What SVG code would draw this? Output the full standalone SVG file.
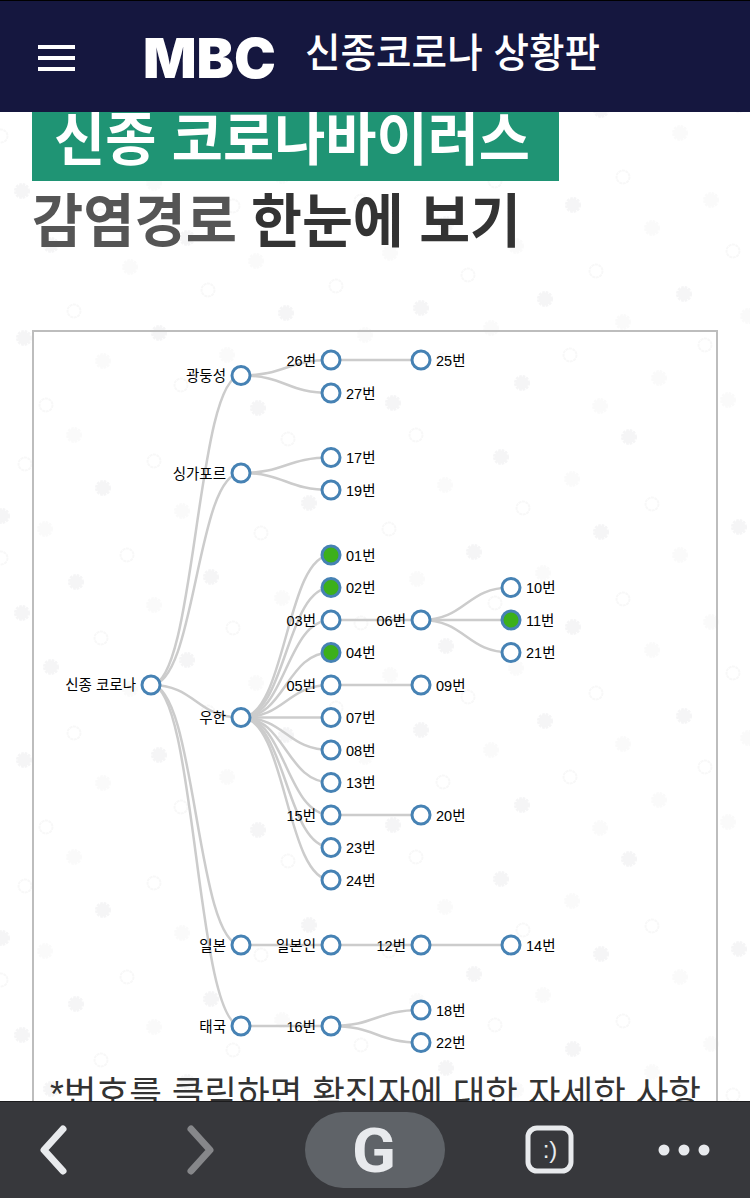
<svg xmlns="http://www.w3.org/2000/svg" width="750" height="1198" viewBox="0 0 750 1198">
<style>
text{font-family:"Liberation Sans","Noto Sans CJK KR",sans-serif}
.l{fill:none;stroke:#ccc;stroke-width:2.5}
.n{fill:#fff;stroke:#4682b4;stroke-width:3}
.g{fill:#3cb01a;stroke:#4682b4;stroke-width:3}
.t{font-size:14.500px;fill:#000}
.e{text-anchor:end}
.r{fill:none;stroke:#f8f8f8;stroke-width:2;stroke-dasharray:3 .6}
.f{fill:#f5f5f6;stroke:#f5f5f6;stroke-width:3;stroke-dasharray:2.400 1}
.h{fill:#fafafa;stroke:#fafafa;stroke-width:3;stroke-dasharray:2.400 1}
</style>
<defs>
<circle id="ring" class="r" r="6.500"/>
<circle id="flake" class="f" r="6.500"/>
<circle id="pale" class="h" r="6.500"/>
<g id="tile">
<use href="#flake" x="501" y="457"/><use href="#flake" x="103" y="488"/><use href="#pale" x="445" y="485"/><use href="#pale" x="572" y="479"/><use href="#flake" x="309" y="503"/><use href="#pale" x="182" y="511"/><use href="#flake" x="2" y="516"/><use href="#pale" x="45" y="529"/><use href="#flake" x="601" y="532"/><use href="#flake" x="739" y="527"/><use href="#flake" x="474" y="552"/><use href="#pale" x="680" y="555"/><use href="#flake" x="76" y="582"/><use href="#flake" x="211" y="577"/><use href="#pale" x="417" y="579"/><use href="#pale" x="543" y="573"/><use href="#pale" x="282" y="598"/><use href="#pale" x="154" y="605"/><use href="#flake" x="22" y="613"/><use href="#pale" x="711" y="622"/><use href="#flake" x="573" y="627"/><use href="#flake" x="446" y="646"/><use href="#pale" x="652" y="650"/><use href="#flake" x="51" y="667"/><use href="#flake" x="187" y="660"/><use href="#pale" x="516" y="668"/><use href="#pale" x="390" y="675"/><use href="#pale" x="256" y="683"/><use href="#pale" x="130" y="689"/><use href="#pale" x="103" y="783"/><use href="#pale" x="227" y="777"/><use href="#flake" x="522" y="805"/><use href="#pale" x="659" y="800"/><use href="#flake" x="258" y="830"/><use href="#flake" x="393" y="825"/><use href="#pale" x="728" y="822"/><use href="#pale" x="600" y="828"/><use href="#pale" x="74" y="857"/><use href="#flake" x="629" y="859"/><use href="#pale" x="623" y="744"/><use href="#pale" x="491" y="750"/><use href="#pale" x="365" y="757"/><use href="#flake" x="286" y="735"/><use href="#flake" x="421" y="730"/><use href="#flake" x="545" y="721"/><use href="#flake" x="684" y="716"/><use href="#flake" x="159" y="755"/><use href="#flake" x="24" y="760"/><use href="#pale" x="748" y="738"/>
<use href="#ring" x="25" y="464"/><use href="#ring" x="154" y="461"/><use href="#ring" x="523" y="508"/><use href="#ring" x="652" y="504"/><use href="#ring" x="261" y="533"/><use href="#ring" x="389" y="529"/><use href="#ring" x="127" y="555"/><use href="#ring" x="1" y="558"/><use href="#ring" x="623" y="599"/><use href="#ring" x="495" y="603"/><use href="#ring" x="233" y="628"/><use href="#ring" x="361" y="623"/><use href="#ring" x="101" y="638"/><use href="#ring" x="733" y="673"/><use href="#ring" x="596" y="693"/><use href="#ring" x="468" y="697"/><use href="#ring" x="336" y="708"/><use href="#ring" x="208" y="712"/><use href="#ring" x="74" y="733"/><use href="#ring" x="705" y="767"/><use href="#ring" x="570" y="777"/><use href="#ring" x="443" y="782"/><use href="#ring" x="181" y="807"/><use href="#ring" x="46" y="827"/><use href="#ring" x="416" y="857"/><use href="#ring" x="288" y="861"/>
</g>
</defs>
<rect width="750" height="1198" fill="#fff"/>
<g id="background">
<use href="#tile" y="-422"/><use href="#tile"/><use href="#tile" y="422"/>
</g>
<rect x="33" y="331" width="684" height="800" fill="none" stroke="#bdbdbd" stroke-width="2"/>
<g id="connectors">
<path class="l" d="M151 685C196 685 196 375.500 241 375.500"/>
<path class="l" d="M151 685C196 685 196 473 241 473"/>
<path class="l" d="M151 685C196 685 196 717.500 241 717.500"/>
<path class="l" d="M151 685C196 685 196 945 241 945"/>
<path class="l" d="M151 685C196 685 196 1026 241 1026"/>
<path class="l" d="M241 375.500C286 375.500 286 360 331 360"/>
<path class="l" d="M241 375.500C286 375.500 286 393 331 393"/>
<path class="l" d="M331 360H421"/>
<path class="l" d="M241 473C286 473 286 457.500 331 457.500"/>
<path class="l" d="M241 473C286 473 286 490 331 490"/>
<path class="l" d="M241 717.500C286 717.500 286 555 331 555"/>
<path class="l" d="M241 717.500C286 717.500 286 587.500 331 587.500"/>
<path class="l" d="M241 717.500C286 717.500 286 620 331 620"/>
<path class="l" d="M241 717.500C286 717.500 286 652.500 331 652.500"/>
<path class="l" d="M241 717.500C286 717.500 286 685 331 685"/>
<path class="l" d="M241 717.500H331"/>
<path class="l" d="M241 717.500C286 717.500 286 750 331 750"/>
<path class="l" d="M241 717.500C286 717.500 286 782.500 331 782.500"/>
<path class="l" d="M241 717.500C286 717.500 286 815 331 815"/>
<path class="l" d="M241 717.500C286 717.500 286 847.500 331 847.500"/>
<path class="l" d="M241 717.500C286 717.500 286 880 331 880"/>
<path class="l" d="M331 620H421"/>
<path class="l" d="M421 620C466 620 466 587.500 511 587.500"/>
<path class="l" d="M421 620H511"/>
<path class="l" d="M421 620C466 620 466 652.500 511 652.500"/>
<path class="l" d="M331 685H421"/>
<path class="l" d="M331 815H421"/>
<path class="l" d="M241 945H511"/>
<path class="l" d="M241 1026H331"/>
<path class="l" d="M331 1026C376 1026 376 1010 421 1010"/>
<path class="l" d="M331 1026C376 1026 376 1042.500 421 1042.500"/>
</g>
<g id="node-root"><circle class="n" cx="151" cy="685" r="9"/><text class="t e" x="136" y="690">신종 코로나</text></g>
<g id="node-gd"><circle class="n" cx="241" cy="375.500" r="9"/><text class="t e" x="226" y="381">광둥성</text></g>
<g id="node-sg"><circle class="n" cx="241" cy="473" r="9"/><text class="t e" x="226" y="478.500">싱가포르</text></g>
<g id="node-wh"><circle class="n" cx="241" cy="717.500" r="9"/><text class="t e" x="226" y="723">우한</text></g>
<g id="node-jp"><circle class="n" cx="241" cy="945" r="9"/><text class="t e" x="226" y="950.500">일본</text></g>
<g id="node-th"><circle class="n" cx="241" cy="1026" r="9"/><text class="t e" x="226" y="1031.500">태국</text></g>
<g id="node-26"><circle class="n" cx="331" cy="360" r="9"/><text class="t e" x="316" y="365.500">26번</text></g>
<g id="node-25"><circle class="n" cx="421" cy="360" r="9"/><text class="t" x="436" y="365.500">25번</text></g>
<g id="node-27"><circle class="n" cx="331" cy="393" r="9"/><text class="t" x="346" y="398.500">27번</text></g>
<g id="node-17"><circle class="n" cx="331" cy="457.500" r="9"/><text class="t" x="346" y="463">17번</text></g>
<g id="node-19"><circle class="n" cx="331" cy="490" r="9"/><text class="t" x="346" y="495.500">19번</text></g>
<g id="node-01"><circle class="g" cx="331" cy="555" r="9"/><text class="t" x="346" y="560.500">01번</text></g>
<g id="node-02"><circle class="g" cx="331" cy="587.500" r="9"/><text class="t" x="346" y="593">02번</text></g>
<g id="node-03"><circle class="n" cx="331" cy="620" r="9"/><text class="t e" x="316" y="625.500">03번</text></g>
<g id="node-06"><circle class="n" cx="421" cy="620" r="9"/><text class="t e" x="406" y="625.500">06번</text></g>
<g id="node-10"><circle class="n" cx="511" cy="587.500" r="9"/><text class="t" x="526" y="593">10번</text></g>
<g id="node-11"><circle class="g" cx="511" cy="620" r="9"/><text class="t" x="526" y="625.500">11번</text></g>
<g id="node-21"><circle class="n" cx="511" cy="652.500" r="9"/><text class="t" x="526" y="658">21번</text></g>
<g id="node-04"><circle class="g" cx="331" cy="652.500" r="9"/><text class="t" x="346" y="658">04번</text></g>
<g id="node-05"><circle class="n" cx="331" cy="685" r="9"/><text class="t e" x="316" y="690.500">05번</text></g>
<g id="node-09"><circle class="n" cx="421" cy="685" r="9"/><text class="t" x="436" y="690.500">09번</text></g>
<g id="node-07"><circle class="n" cx="331" cy="717.500" r="9"/><text class="t" x="346" y="723">07번</text></g>
<g id="node-08"><circle class="n" cx="331" cy="750" r="9"/><text class="t" x="346" y="755.500">08번</text></g>
<g id="node-13"><circle class="n" cx="331" cy="782.500" r="9"/><text class="t" x="346" y="788">13번</text></g>
<g id="node-15"><circle class="n" cx="331" cy="815" r="9"/><text class="t e" x="316" y="820.500">15번</text></g>
<g id="node-20"><circle class="n" cx="421" cy="815" r="9"/><text class="t" x="436" y="820.500">20번</text></g>
<g id="node-23"><circle class="n" cx="331" cy="847.500" r="9"/><text class="t" x="346" y="853">23번</text></g>
<g id="node-24"><circle class="n" cx="331" cy="880" r="9"/><text class="t" x="346" y="885.500">24번</text></g>
<g id="node-jpp"><circle class="n" cx="331" cy="945" r="9"/><text class="t e" x="316" y="950.500">일본인</text></g>
<g id="node-12"><circle class="n" cx="421" cy="945" r="9"/><text class="t e" x="406" y="950.500">12번</text></g>
<g id="node-14"><circle class="n" cx="511" cy="945" r="9"/><text class="t" x="526" y="950.500">14번</text></g>
<g id="node-16"><circle class="n" cx="331" cy="1026" r="9"/><text class="t e" x="316" y="1031.500">16번</text></g>
<g id="node-18"><circle class="n" cx="421" cy="1010" r="9"/><text class="t" x="436" y="1015.500">18번</text></g>
<g id="node-22"><circle class="n" cx="421" cy="1042.500" r="9"/><text class="t" x="436" y="1048">22번</text></g>
<text x="50" y="1107" font-size="36" fill="#333" textLength="651" lengthAdjust="spacingAndGlyphs">*번호를 클릭하면 확진자에 대한 자세한 사항</text>
<g id="title">
<rect x="32" y="100" width="527" height="81" fill="#1f9474"/>
<text x="54" y="160" font-size="58" font-weight="700" fill="#fff" textLength="476" lengthAdjust="spacingAndGlyphs">신종 코로나바이러스</text>
<text x="32" y="242" font-size="58" font-weight="700" fill="#555" textLength="205" lengthAdjust="spacingAndGlyphs">감염경로</text>
<text x="251" y="242" font-size="58" font-weight="700" fill="#333" textLength="270" lengthAdjust="spacingAndGlyphs">한눈에 보기</text>
</g>
<g id="header">
<rect width="750" height="112" fill="#15173f"/>
<rect width="750" height="1" fill="#000"/>
<path d="M38 47H75M38 58H75M38 69H75" stroke="#fff" stroke-width="4" fill="none"/>
<text x="143" y="78" font-size="55" font-weight="900" fill="#fff" textLength="133" lengthAdjust="spacingAndGlyphs" style="font-family:Inter,'Liberation Sans',sans-serif">MBC</text>
<text x="305" y="67" font-size="40" font-weight="500" fill="#fff" textLength="295" lengthAdjust="spacingAndGlyphs">신종코로나 상황판</text>
</g>
<g id="toolbar">
<rect y="1101" width="750" height="97" fill="#37383c"/>
<rect y="1101" width="750" height="1" fill="#1c1c1e"/>
<path d="M63 1129L44 1150L63 1171" stroke="#e8eaed" stroke-width="7" stroke-linecap="round" stroke-linejoin="round" fill="none"/>
<path d="M191 1129L210 1150L191 1171" stroke="#86878a" stroke-width="7" stroke-linecap="round" stroke-linejoin="round" fill="none"/>
<rect x="305" y="1112" width="140" height="76" rx="38" fill="#5f6368"/>
<text x="352" y="1172" font-size="62" font-weight="700" fill="#e8eaed" textLength="44" lengthAdjust="spacingAndGlyphs" style="font-family:Roboto,sans-serif">G</text>
<rect x="528" y="1128" width="43" height="43" rx="9" fill="none" stroke="#e8eaed" stroke-width="5"/>
<text x="550" y="1158" font-size="24" fill="#e8eaed" text-anchor="middle">:)</text>
<circle cx="664" cy="1150" r="5.500" fill="#e8eaed"/><circle cx="684" cy="1150" r="5.500" fill="#e8eaed"/><circle cx="704" cy="1150" r="5.500" fill="#e8eaed"/>
</g>
</svg>
